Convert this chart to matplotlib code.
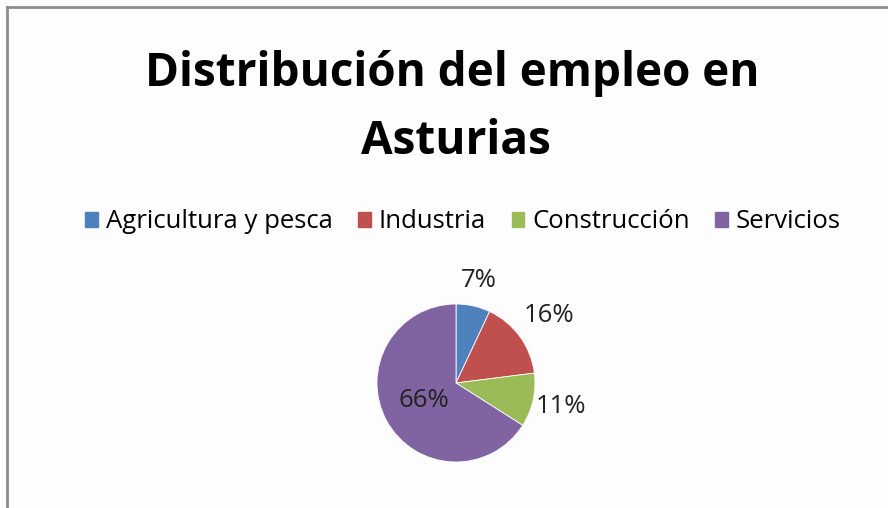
import matplotlib
matplotlib.use("Agg")
import matplotlib.pyplot as plt
import numpy as np

categories = ["Agricultura y pesca", "Industria", "Construcción", "Servicios"]
values = [7, 16, 11, 66]
colors = ["#4F81BD", "#C0504D", "#9BBB59", "#8064A2"]
label_dist = [1.33, 1.46, 1.36, 0.47]

W, H = 888, 508
fig = plt.figure(figsize=(W / 100, H / 100), dpi=100, facecolor="#FDFDFD")
ax = fig.add_axes([0, 0, 1, 1])

cx, cy, r = 456, H - 383, 79
wedges, _ = ax.pie(values, colors=colors, startangle=90, counterclock=False,
                   center=(cx, cy), radius=r, frame=True,
                   wedgeprops=dict(linewidth=0.6, edgecolor="white"))
ax.set_xlim(0, W)
ax.set_ylim(0, H)
ax.set_aspect("equal")
ax.axis("off")

for w, v, d in zip(wedges, values, label_dist):
    ang = np.deg2rad((w.theta1 + w.theta2) / 2)
    ax.text(cx + d * r * np.cos(ang), cy + d * r * np.sin(ang), f"{v}%",
            ha="center", va="center", fontsize=18.5, family="Open Sans",
            color="#222222")

fig.text(452 / W, 1 - 86 / H, "Distribución del empleo en", ha="center", va="baseline",
         fontsize=33, fontweight="bold", family="Open Sans", color="black")
fig.text(456 / W, 1 - 154 / H, "Asturias", ha="center", va="baseline",
         fontsize=33, fontweight="bold", family="Open Sans", color="black")

handles = [plt.Rectangle((0, 0), 1, 1, color=c) for c in colors]
leg = fig.legend(handles, categories, loc="center", bbox_to_anchor=(463 / W, 1 - 222 / H),
                 ncol=4, frameon=False, prop=dict(family="Open Sans", size=18.5),
                 handlelength=0.5, handleheight=0.5, handletextpad=0.3,
                 columnspacing=1.0)

# outer frame (left and top edges visible)
fig.add_artist(plt.Line2D([7 / W, 7 / W], [0, 1 - 7 / H], transform=fig.transFigure,
                          color="#8C8C8C", linewidth=2))
fig.add_artist(plt.Line2D([7 / W, 1], [1 - 7 / H, 1 - 7 / H], transform=fig.transFigure,
                          color="#8C8C8C", linewidth=2))

fig.savefig("out.png", dpi=100, facecolor=fig.get_facecolor())
